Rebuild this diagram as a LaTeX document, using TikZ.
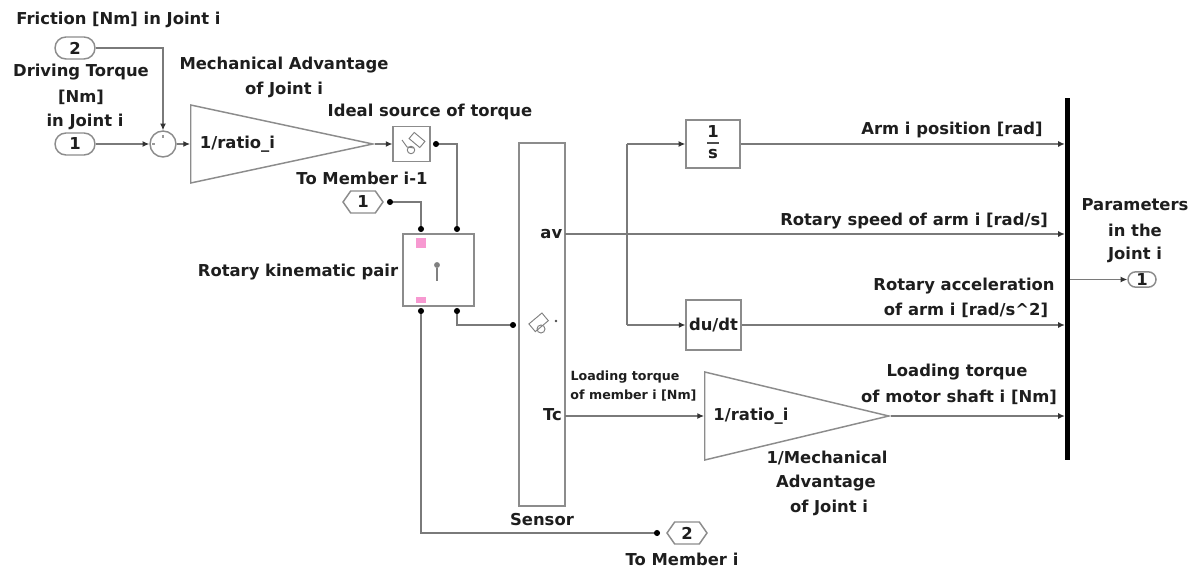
\documentclass[tikz,border=0pt]{standalone}
\usepackage{fontspec}
\setmainfont{DejaVu Sans}
\usetikzlibrary{arrows.meta,shapes.geometric,shapes.misc,shapes.symbols}
\definecolor{wire}{HTML}{7A7A7A}
\definecolor{blockline}{HTML}{8C8C8C}
\definecolor{txt}{HTML}{1E1E1E}
\newcommand{\labfont}{\fontsize{12.3}{14}\selectfont\bfseries}
\tikzset{
  x=0.75pt,y=-0.75pt,
  lab/.style={font=\labfont,text=txt,inner sep=0pt},
  smalllab/.style={font=\fontsize{9.5}{11}\selectfont\bfseries,text=txt,inner sep=0pt},
  blk/.style={draw=blockline,line width=1.1pt,fill=white,inner sep=0pt},
  portin/.style={blk,rounded rectangle,minimum width=30pt,minimum height=16.5pt,font=\labfont,text=txt},
  tag/.style={blk,signal,signal to=east and west,signal pointer angle=110,minimum width=30pt,minimum height=16.5pt,font=\labfont,text=txt},
  gainblk/.style={blk,isosceles triangle,isosceles triangle stretches,shape border rotate=0,anchor=lower side},
  sig/.style={draw=wire,line width=0.95pt,-{Latex[length=5pt,width=4.5pt,black!80]}},
  phys/.style={draw=wire,line width=0.95pt,{Circle[length=4.5pt,width=4.5pt,black]}-{Circle[length=4.5pt,width=4.5pt,black]}},
  icon/.style={draw=black!50,line width=0.7pt},
  pink/.style={fill=magenta!40,draw=none,inner sep=0pt,minimum width=8pt,minimum height=7pt},
}
\begin{document}
\begin{tikzpicture}
\useasboundingbox (0,0) rectangle (1191,570);
\fill[white] (0,0) rectangle (1191,570);

% blocks
\node[portin] (inb) at (75,48) {2};
\node[portin] (ina) at (75,144) {1};
\node[blk,circle,minimum size=19.5pt] (sum) at (163,144) {};
\node[gainblk,minimum height=136.5pt,minimum width=58.5pt] (gaina) at (190,144) {};
\node[blk,minimum width=27.5pt,minimum height=26.5pt] (src) at (411.5,144) {};
\node[tag] (fromm) at (363,202) {1};
\node[blk,minimum width=53pt,minimum height=54pt] (rot) at (438.5,270) {};
\node[blk,minimum width=34.5pt,minimum height=272pt] (sens) at (542,324.5) {};
\node[blk,minimum width=40.5pt,minimum height=36pt] (integ) at (713,144) {};
\node[blk,minimum width=41pt,minimum height=37.5pt,font=\labfont,text=txt] (deriv) at (713.5,325) {du/dt};
\node[gainblk,minimum height=138pt,minimum width=66pt] (gainb) at (704,416) {};
\node[fill=black,draw=none,inner sep=0pt,minimum width=3.6pt,minimum height=271.5pt] (bar) at (1067.5,279) {};
\node[tag] (tom) at (687,533) {2};
\node[blk,rounded rectangle,minimum width=21pt,minimum height=11.5pt,inner sep=0pt,font=\labfont,text=txt] (outp) at (1142,279.5) {1};

% named connection points
\coordinate (rtl) at (421,232);
\coordinate (rtr) at (457,232);
\coordinate (rbl) at (421,308);
\coordinate (rbr) at (457,308);
\coordinate (sensin) at (516,325);
\coordinate (avout) at (565,234);
\coordinate (tcout) at (565,416);
\coordinate (branch) at (627,234);
\coordinate (fromend) at (387,202);
\coordinate (srcout) at (433,144);
\coordinate (toend) at (660,533);

% signals
\draw[sig] (inb.east) -| (sum.north);
\draw[sig] (ina.east) -- (sum.west);
\draw[sig] (sum.east) -- (gaina.lower side);
\draw[sig] (gaina.apex) -- (src.west);
\draw[sig] (avout) -- (avout -| bar.west);
\draw[draw=wire,line width=0.95pt] (branch) -- (branch |- integ.west);
\draw[sig] (branch |- integ.west) -- (integ.west);
\draw[draw=wire,line width=0.95pt] (branch) -- (branch |- deriv.west);
\draw[sig] (branch |- deriv.west) -- (deriv.west);
\draw[sig] (integ.east) -- (integ.east -| bar.west);
\draw[sig] (deriv.east) -- (deriv.east -| bar.west);
\draw[sig] (tcout) -- (tcout -| gainb.lower side);
\draw[sig] (gainb.apex) -- (gainb.apex -| bar.west);
\draw[sig] (bar.east |- outp.west) -- (outp.west);

% physical connections
\draw[phys] (srcout) -| (rtr);
\draw[phys] (fromend) -| (rtl);
\draw[phys] (rbl) |- (toend);
\draw[phys] (rbr) |- (sensin);
\fill[wire] (branch) circle (1.2pt);

% block contents
\node[lab] at (237.5,144) {1/ratio\_i};
\node[lab] at (751,416) {1/ratio\_i};
\node[lab] at (713,132) {1};
\draw[black!70,line width=0.8pt] (707,143) -- (719,143);
\node[lab] at (713,154) {s};
\node[lab,anchor=east] at (562.5,234) {av};
\node[lab,anchor=east] at (562,414.5) {Tc};
\fill[black!40] (162,135) rectangle (164,138);
\fill[black!40] (152,143) rectangle (155,145);
\node[pink] at (421,243) {};
\node[pink,minimum height=5pt] at (421,300) {};
% source icon
\draw[icon,rotate around={-40:(417,140)}] (410,136) rectangle (424,144);
\draw[icon] (402,140) -- (407,147) -- (414,148);
\draw[icon] (411,150) circle (2.8pt);
% joint icon
\draw[icon,line width=1pt] (437,268) -- (437,281);
\fill[black!50] (437,265) circle (2.2pt);
% sensor icon
\draw[icon,rotate around={40:(539,322)}] (530,317) rectangle (547,327);
\draw[icon] (541,329) circle (3pt);
\fill[black!70] (556,321) circle (1pt);

% labels
\node[lab] at (118.5,20) {Friction [Nm] in Joint i};
\node[lab] at (81,72) {Driving Torque};
\node[lab] at (81,97) {[Nm]};
\node[lab] at (85,122) {in Joint i};
\node[lab] at (284,65) {Mechanical Advantage};
\node[lab] at (284,90) {of Joint i};
\node[lab] at (430,112) {Ideal source of torque};
\node[lab] at (362,178) {To Member i-1};
\node[lab] at (298,272) {Rotary kinematic pair};
\node[lab] at (542,520) {Sensor};
\node[lab] at (682,559) {To Member i};
\node[smalllab] at (625,377) {Loading torque};
\node[smalllab] at (633.5,396) {of member i [Nm]};
\node[lab] at (952,130) {Arm i position [rad]};
\node[lab] at (914,221) {Rotary speed of arm i [rad/s]};
\node[lab] at (964,286) {Rotary acceleration};
\node[lab] at (966,310) {of arm i [rad/s\^{}2]};
\node[lab] at (957,372) {Loading torque};
\node[lab] at (959,397) {of motor shaft i [Nm]};
\node[lab] at (827,458) {1/Mechanical};
\node[lab] at (826,483) {Advantage};
\node[lab] at (829,508) {of Joint i};
\node[lab] at (1135,205) {Parameters};
\node[lab] at (1135,230) {in the};
\node[lab] at (1135,255) {Joint i};
\end{tikzpicture}
\end{document}
